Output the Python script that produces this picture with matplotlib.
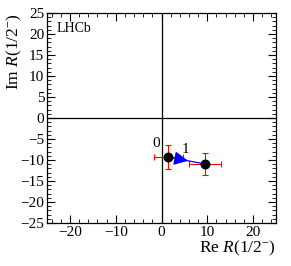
import matplotlib
matplotlib.use("Agg")
import matplotlib.pyplot as plt
from matplotlib.ticker import MultipleLocator

plt.rcParams['font.family'] = ['Liberation Serif', 'DejaVu Serif']
plt.rcParams['mathtext.fontset'] = 'custom'
plt.rcParams['mathtext.rm'] = 'Liberation Serif'
plt.rcParams['mathtext.it'] = 'Liberation Serif:italic'

labels = ['0', '1']
re_vals = [1.5, 9.5]
im_vals = [-9.3, -10.95]
re_err = [3.1, 3.45]
im_err = [2.8, 2.6]

fig = plt.figure(figsize=(2.91, 2.66), dpi=100)
ax = fig.add_axes([47/291, 1-223/266, 229/291, 210/266])

ax.axhline(0, color='black', lw=0.9, zorder=1)
ax.axvline(0, color='black', lw=0.9, zorder=1)

ax.errorbar(re_vals, im_vals, xerr=re_err, yerr=im_err, fmt='none',
            ecolor='red', elinewidth=0.8, capsize=2, capthick=0.8, zorder=2)
ax.plot(re_vals, im_vals, color='blue', lw=0.9, zorder=3)
slope = (im_vals[1] - im_vals[0]) / (re_vals[1] - re_vals[0])
x_tail, x_tip = 3.0, 5.8
ax.annotate('', xy=(x_tip, im_vals[0] + slope * (x_tip - re_vals[0])),
            xytext=(x_tail, im_vals[0] + slope * (x_tail - re_vals[0])),
            arrowprops=dict(arrowstyle='-|>,head_length=0.85,head_width=0.42',
                            color='blue', lw=0.9, shrinkA=0, shrinkB=0), zorder=4)
ax.scatter(re_vals, im_vals, s=38, color='black', zorder=5)

ax.text(re_vals[0] - 3.6, im_vals[0] + 2.4, labels[0], fontsize=11)
ax.text(re_vals[1] - 5.2, im_vals[1] + 2.7, labels[1], fontsize=11)

ax.text(-23, 20.5, 'LHCb', fontsize=10)

ax.set_xlim(-25, 25)
ax.set_ylim(-25, 25)
ax.xaxis.set_major_locator(MultipleLocator(10))
ax.xaxis.set_minor_locator(MultipleLocator(2))
ax.yaxis.set_major_locator(MultipleLocator(5))
ax.yaxis.set_minor_locator(MultipleLocator(1))
ax.tick_params(which='both', direction='in', top=True, right=True, labelsize=11, pad=2)
ax.tick_params(which='major', length=6, width=0.8)
ax.tick_params(which='minor', length=3, width=0.6)
for s in ax.spines.values():
    s.set_linewidth(0.9)

ax.set_xlabel(r'Re $R(1/2^{-})$', fontsize=12.5, loc='right', labelpad=0)
ax.set_ylabel(r'Im $R(1/2^{-})$', fontsize=12.5, loc='top')
ax.yaxis.set_label_coords(-0.10, 1.0)

fig.savefig('out.png', dpi=100)
